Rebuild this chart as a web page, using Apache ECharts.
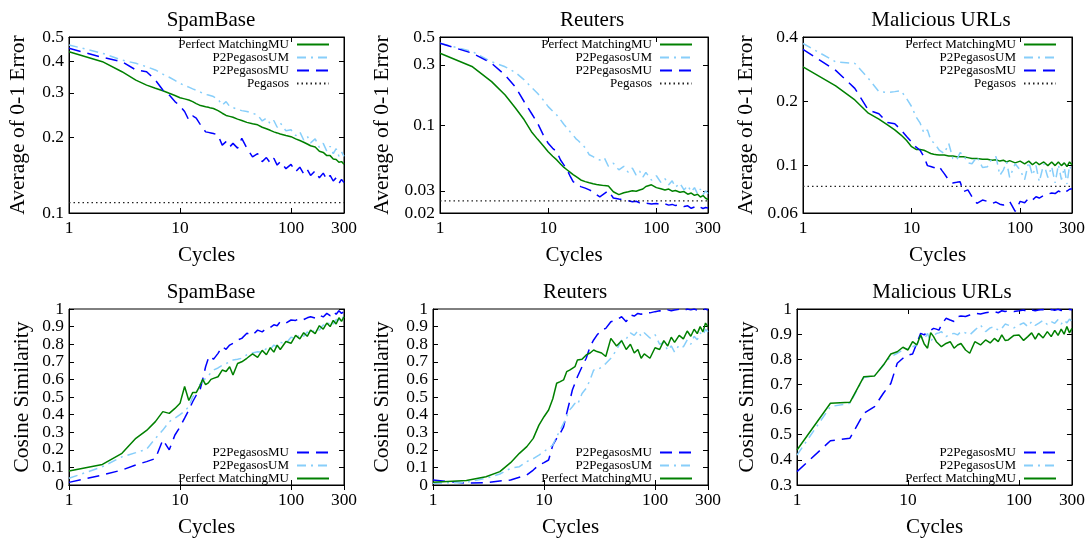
<!DOCTYPE html>
<html><head><meta charset="utf-8">
<script src="https://cdn.jsdelivr.net/npm/echarts@6/dist/echarts.min.js"></script>
<style>html,body{margin:0;padding:0;background:#fff}#c{width:1088px;height:540px}</style>
</head><body><div id="c"></div>
<script>
// ---------------- DATA ----------------
const CYCLES = [1,2,3,4,5,6,7,8,9,10, 11,12,13,14,15,16,17,18,19,20, 22,24,26,28,30,33,36,40,45,50,
  55,60,65,70,75,80,90,100,110,120, 130,140,150,165,180,195,210,225,240,255, 270,285,300];
const X_TICKS = [1,10,100,300];
const TITLES = ['SpamBase','Reuters','Malicious URLs','SpamBase','Reuters','Malicious URLs'];
const ERR_TICKS = [[0.1,0.2,0.3,0.4,0.5],[0.02,0.03,0.1,0.3,0.5],[0.06,0.1,0.2,0.4]];
const ERR_MIN = [0.1,0.02,0.06];
const ERR_MAX = [0.5,0.5,0.4];
const COS_MIN = [0,0,0.3];
const COS_MAX = [1,1,1];
const PEGASOS = [0.11,0.025,0.08];
const NAME_PM = 'Perfect MatchingMU', NAME_UM = 'P2PegasosUM', NAME_MU = 'P2PegasosMU', NAME_PEG = 'Pegasos';

// 0-1 error
const SPAM_ERR_PM = [.437,.399,.364,.337,.322,.313,.306,.299,.293,.287, .284,.281,.277,.272,.268,.266,.264,.263,.261,.260,
  .255,.249,.244,.242,.240,.236,.233,.229,.226,.224, .219,.216,.213,.210,.208,.206,.203,.201,.197,.194,
  .191,.188,.185,.183,.176,.174,.169,.169,.164,.163, .159,.160,.156];
const SPAM_ERR_UM = [.465,.431,.405,.393,.381,.370,.356,.346,.336,.327, .321,.316,.311,.307,.303,.299,.296,.294,.292,.290,
  .283,.268,.277,.265,.262,.258,.255,.253,.249,.245, .232,.238,.226,.233,.219,.228,.212,.214,.203,.210,
  .195,.202,.190,.197,.182,.189,.176,.184,.172,.180, .168,.175,.168];
const SPAM_ERR_MU = [.451,.415,.399,.370,.364,.337,.308,.294,.277,.266, .253,.234,.243,.238,.227,.218,.210,.209,.208,.207,
  .204,.186,.192,.183,.189,.181,.198,.181,.167,.172, .160,.166,.158,.165,.155,.160,.150,.156,.146,.152,
  .143,.149,.141,.147,.138,.144,.136,.141,.134,.138, .131,.136,.132];
const REUT_ERR_PM = [.371,.290,.221,.173,.136,.110,.0885,.0769,.0685,.0614, .0565,.0528,.049,.046,.0439,.042,.0403,.039,.0378,.0366,
  .0355,.0348,.0342,.0337,.0334,.0330,.0327,.0295,.0280,.0290, .0295,.0300,.0298,.0305,.0310,.0325,.0335,.0318,.0312,.0305,
  .0310,.0298,.0302,.0292,.0296,.0282,.0288,.0276,.0282,.0268, .0275,.0262,.0256];
const REUT_ERR_UM = [.446,.382,.318,.290,.261,.228,.199,.178,.158,.140, .129,.120,.110,.101,.0942,.088,.083,.078,.075,.0715,
  .066,.058,.056,.054,.0527,.0550,.0470,.0497,.0440,.0470, .0420,.0455,.0400,.0430,.0385,.0420,.0365,.0395,.0350,.0375,
  .0335,.0360,.0320,.0345,.0305,.0330,.0295,.0318,.0285,.0310, .0280,.0300,.0285];
const REUT_ERR_MU = [.446,.371,.309,.249,.199,.153,.124,.103,.0834,.0715, .0653,.0614,.0527,.0480,.0439,.0390,.0355,.0345,.0335,.0324,
  .0315,.0305,.0295,.0280,.0269,.0285,.0300,.0263,.0258,.0254, .0250,.0246,.0248,.0241,.0243,.0239,.0236,.0238,.0233,.0236,
  .0231,.0234,.0229,.0232,.0225,.0228,.0218,.0223,.0216,.0222, .0217,.0221,.0219];
const URL_ERR_PM = [.290,.236,.203,.176,.165,.155,.147,.139,.131,.1226, .119,.119,.118,.116,.114,.113,.1125,.112,.112,.112,
  .111,.111,.110,.110,.110,.109,.108,.108,.107,.107, .106,.1065,.105,.106,.104,.1055,.103,.105,.102,.105,
  .101,.104,.101,.104,.100,.104,.100,.104,.100,.103, .099,.104,.101];
const URL_ERR_UM = [.373,.306,.301,.256,.222,.220,.222,.224,.206,.189, .169,.158,.142,.147,.132,.128,.123,.118,.116,.114,
  .127,.108,.106,.115,.112,.103,.102,.110,.098,.0988, .108,.110,.090,.0953,.104,.088,.102,.0953,.086,.104,
  .090,.100,.084,.102,.088,.099,.083,.101,.086,.098, .082,.100,.094];
const URL_ERR_MU = [.350,.279,.230,.182,.175,.159,.157,.147,.137,.129, .122,.118,.110,.100,.099,.098,.097,.0988,.095,.0917,
  .0855,.083,.0835,.084,.0755,.077,.0715,.0666,.069,.068, .0665,.0675,.066,.0654,.0668,.068,.061,.068,.067,.0705,
  .069,.0715,.0705,.0725,.0735,.0745,.0740,.0760,.0750,.0770, .0760,.0775,.0780];

// cosine similarity
const SPAM_COS_PM = [.08,.117,.18,.265,.31,.36,.417,.407,.435,.464, .56,.48,.525,.525,.56,.60,.57,.58,.60,.606,
  .615,.653,.645,.672,.625,.69,.70,.72,.745,.725, .765,.740,.780,.755,.795,.770,.815,.805,.850,.830,
  .865,.845,.880,.860,.905,.885,.920,.900,.935,.915, .950,.930,.956];
const SPAM_COS_UM = [.038,.104,.16,.184,.203,.265,.312,.36,.38,.40, .42,.445,.50,.52,.57,.59,.606,.62,.64,.653,
  .665,.68,.69,.70,.71,.715,.72,.74,.75,.757, .755,.775,.770,.795,.785,.810,.805,.840,.830,.855,
  .845,.870,.855,.885,.880,.910,.900,.930,.915,.940, .935,.955,.950];
const SPAM_COS_MU = [.015,.057,.085,.114,.133,.15,.256,.20,.284,.33, .38,.426,.473,.51,.53,.60,.672,.72,.733,.714,
  .748,.786,.771,.795,.805,.824,.833,.862,.852,.88, .87,.89,.895,.91,.905,.928,.92,.9375,.935,.947,
  .94,.95,.956,.948,.965,.955,.975,.962,.985,.97, .99,.975,.985];
const REUT_COS_PM = [.015,.025,.047,.076,.127,.18,.218,.265,.34,.388, .426,.49,.578,.587,.597,.644,.653,.663,.672,.71,
  .714,.739,.75,.767,.758,.75,.73,.833,.79,.82, .77,.80,.75,.77,.72,.745,.72,.78,.77,.82,
  .79,.84,.81,.85,.83,.875,.845,.885,.86,.90, .87,.92,.90];
const REUT_COS_UM = [.01,.015,.038,.0625,.095,.104,.133,.15,.17,.19, .21,.227,.275,.312,.35,.388,.426,.445,.464,.455,
  .52,.55,.597,.653,.653,.67,.69,.72,.767,.824, .83,.865,.85,.875,.845,.865,.835,.855,.80,.81,
  .765,.79,.755,.795,.785,.825,.80,.845,.825,.865, .85,.885,.87];
const REUT_COS_MU = [.028,.01,.013,.023,.028,.044,.057,.085,.114,.127, .142,.227,.265,.294,.33,.407,.473,.54,.578,.615,
  .672,.72,.786,.824,.852,.88,.89,.928,.9375,.956, .928,.966,.96,.975,.97,.98,.978,.985,.99,.985,
  .995,.99,.994,.998,.99,1.0,.995,1.0,.993,1.0, .996,1.0,.994];
const URL_COS_PM = [.439,.625,.629,.731,.734,.777,.821,.83,.848,.837, .87,.857,.897,.861,.844,.906,.89,.87,.86,.85,
  .863,.87,.844,.857,.863,.837,.824,.87,.857,.877, .865,.883,.87,.897,.875,.877,.895,.897,.875,.89,
  .905,.88,.903,.885,.91,.89,.915,.895,.92,.90, .93,.905,.923];
const URL_COS_UM = [.419,.612,.625,.728,.734,.777,.81,.824,.837,.843, .85,.857,.89,.88,.903,.87,.89,.903,.905,.91,
  .89,.90,.903,.897,.91,.905,.897,.916,.936,.91, .925,.93,.915,.923,.94,.936,.925,.936,.945,.93,
  .95,.935,.943,.955,.938,.95,.943,.958,.94,.955, .945,.96,.95];
const URL_COS_MU = [.353,.476,.486,.585,.612,.665,.704,.784,.804,.817, .821,.863,.903,.897,.91,.915,.923,.92,.916,.936,
  .963,.956,.95,.97,.972,.97,.976,.983,.98,.985, .988,.99,.985,.993,.99,.993,.99,.993,.996,.99,
  .996,.993,.996,.998,.993,.998,.995,.999,.994,.998, .996,.999,.996];

// ---------------- LAYOUT / STYLE ----------------
const FONT = 'Liberation Serif';
const TICK_FONT = 17.4;
const GRIDS = [
  {left:69, top:37, width:275, height:176},
  {left:440, top:37, width:268, height:176},
  {left:803, top:37, width:269, height:176},
  {left:69, top:309, width:275, height:176},
  {left:433, top:309, width:275, height:176},
  {left:797, top:309, width:275, height:176}
];
const TITLE_POS = [[206,5],[587,5],[936,5],[206,277],[570,277],[937,277]];
const YNAME_GAP = [40,47,46,36,40,39];
const LEGEND_POS = [[758,38],[395,38],[31,38],[758,446],[395,446],[31,446]];
const STYLE = {
  [NAME_PM]: {color:'#008000', type:'solid', width:1.5},
  [NAME_UM]: {color:'#87cefa', type:[9,5,2,5], width:1.5},
  [NAME_MU]: {color:'#0000ff', type:[12,7], width:1.5},
  [NAME_PEG]: {color:'#222', type:[1.5,3], width:1.2}
};

const ERR_DATA = [
  {pm:SPAM_ERR_PM, um:SPAM_ERR_UM, mu:SPAM_ERR_MU},
  {pm:REUT_ERR_PM, um:REUT_ERR_UM, mu:REUT_ERR_MU},
  {pm:URL_ERR_PM, um:URL_ERR_UM, mu:URL_ERR_MU}
];
const COS_DATA = [
  {pm:SPAM_COS_PM, um:SPAM_COS_UM, mu:SPAM_COS_MU},
  {pm:REUT_COS_PM, um:REUT_COS_UM, mu:REUT_COS_MU},
  {pm:URL_COS_PM, um:URL_COS_UM, mu:URL_COS_MU}
];

const pairs = vals => CYCLES.map((c,i)=>[c, vals[i]]);
const fmt = v => String(+(+v).toFixed(3));
const txt = (size) => ({fontFamily:FONT, fontSize:size, color:'#000'});

const xAxis = [], yAxis = [], series = [], title = [], legend = [];
for (let i=0;i<6;i++){
  const top = i<3, k = i%3;
  title.push({text:TITLES[i], left:TITLE_POS[i][0], top:TITLE_POS[i][1], textAlign:'center',
    textStyle:{fontFamily:FONT, fontSize:21, fontWeight:'normal', color:'#000'}});
  const xBase = {type:'log', logBase:10, gridIndex:i, min:1, max:300, splitLine:{show:false},
    axisLine:{show:true, lineStyle:{color:'#000', width:1}},
    axisTick:{show:true, inside:true, length:5, customValues:X_TICKS, lineStyle:{color:'#000'}}};
  xAxis.push(Object.assign({}, xBase, {position:'bottom', name:'Cycles', nameLocation:'middle', nameGap:32,
    nameTextStyle:txt(21), axisLabel:Object.assign(txt(TICK_FONT), {customValues:X_TICKS, margin:7, formatter:fmt,
      showMinLabel:true, showMaxLabel:true, hideOverlap:false})}));
  let yBase;
  if (top) {
    yBase = {type:'log', logBase:10, gridIndex:i, min:ERR_MIN[k], max:ERR_MAX[k], splitLine:{show:false},
      axisLine:{show:true, lineStyle:{color:'#000', width:1}},
      axisTick:{show:true, inside:true, length:5, customValues:ERR_TICKS[k], lineStyle:{color:'#000'}}};
  } else {
    yBase = {type:'value', gridIndex:i, min:COS_MIN[k], max:COS_MAX[k], interval:0.1, splitLine:{show:false},
      axisLine:{show:true, lineStyle:{color:'#000', width:1}},
      axisTick:{show:true, inside:true, length:5, lineStyle:{color:'#000'}}};
  }
  const yLab = Object.assign(txt(TICK_FONT), {margin:5, formatter:fmt, hideOverlap:false});
  if (top) yLab.customValues = ERR_TICKS[k];
  yAxis.push(Object.assign({}, yBase, {position:'left', name: top ? 'Average of 0-1 Error' : 'Cosine Similarity',
    nameLocation:'middle', nameRotate:90, nameGap:YNAME_GAP[i], nameTextStyle:txt(21.5), axisLabel:yLab}));
  // mirrored axes (ticks on top and right)
  xAxis.push(Object.assign({}, xBase, {position:'top', axisLabel:{show:false}}));
  yAxis.push(Object.assign({}, yBase, {position:'right', axisLabel:{show:false}}));
}
// axis indices: primary at 2*i, mirror at 2*i+1
function mk(name, data, i){
  const s = STYLE[name];
  return {name, type:'line', xAxisIndex:2*i, yAxisIndex:2*i, data, symbol:'none', showSymbol:false,
    lineStyle:{color:s.color, type:s.type, width:s.width}, itemStyle:{color:s.color}, animation:false, silent:true};
}
for (let k=0;k<3;k++){
  const d = ERR_DATA[k];
  series.push(mk(NAME_PM, pairs(d.pm), k));
  series.push(mk(NAME_UM, pairs(d.um), k));
  series.push(mk(NAME_MU, pairs(d.mu), k));
  series.push(mk(NAME_PEG, [[1,PEGASOS[k]],[300,PEGASOS[k]]], k));
}
for (let k=0;k<3;k++){
  const d = COS_DATA[k], i = k+3;
  series.push(mk(NAME_MU, pairs(d.mu), i));
  series.push(mk(NAME_UM, pairs(d.um), i));
  series.push(mk(NAME_PM, pairs(d.pm), i));
}
for (let i=0;i<6;i++){
  legend.push({orient:'vertical', right:LEGEND_POS[i][0], top:LEGEND_POS[i][1], align:'right',
    itemWidth:32, itemHeight:12, itemGap:0, padding:0, selectedMode:false,
    itemStyle:{opacity:0},
    textStyle:{fontFamily:FONT, fontSize:13, color:'#000', lineHeight:12, padding:[0,3,0,0]},
    data: i<3 ? [NAME_PM, NAME_UM, NAME_MU, NAME_PEG] : [NAME_MU, NAME_UM, NAME_PM]});
}
const grid = GRIDS.map(g => Object.assign({show:true, borderColor:'#000', borderWidth:1, containLabel:false}, g));

const chart = echarts.init(document.getElementById('c'), null, {renderer:'canvas'});
chart.setOption({backgroundColor:'#fff', animation:false, title, legend, grid, xAxis, yAxis, series});
</script></body></html>
